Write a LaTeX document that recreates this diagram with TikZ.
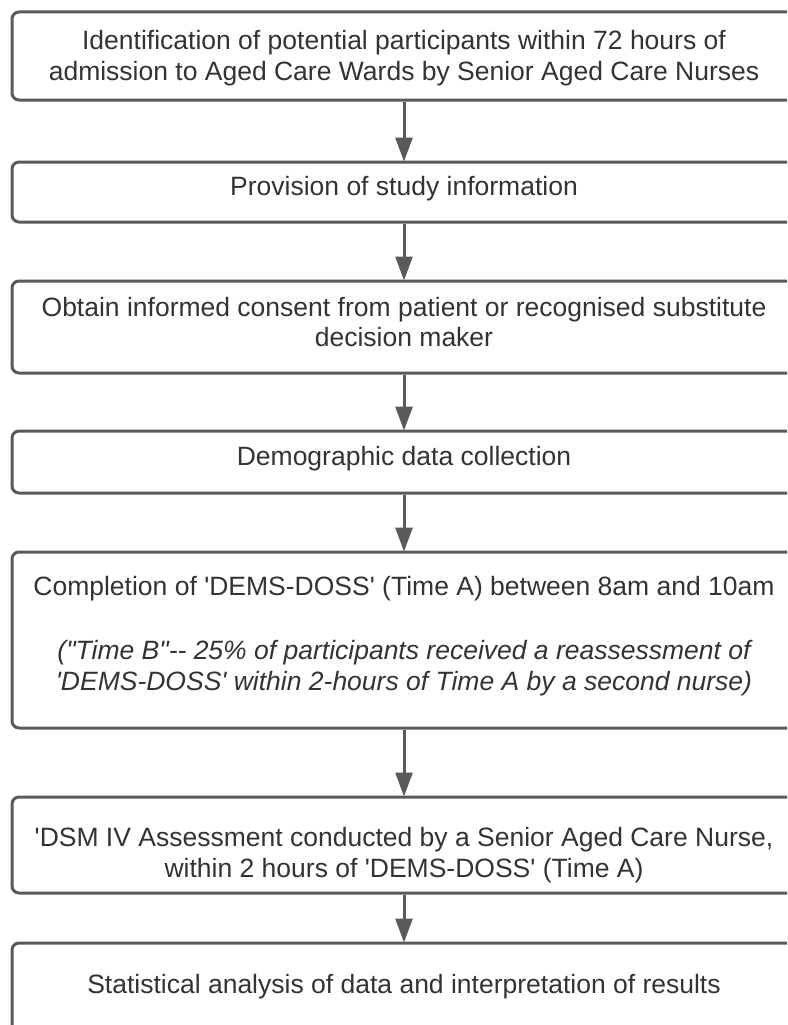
\documentclass[tikz,border=0pt]{standalone}
\usepackage{fontspec}
\setmainfont{Liberation Sans}[Ligatures=TeXOff]
\usetikzlibrary{arrows.meta}
\definecolor{bordercol}{HTML}{5A5A5A}
\definecolor{textcol}{HTML}{333333}
\newcommand{\fs}{\fontsize{26.5pt}{30.5pt}\selectfont}
\newcommand{\sq}{\textquotesingle}
\tikzset{
  box/.style={draw=bordercol, line width=3pt, rounded corners=7pt, minimum width=784pt, inner sep=0pt, fill=white},
  txt/.style={align=center, text=textcol, inner sep=0pt, font=\fs},
  flow/.style={draw=bordercol, line width=3pt, -{Triangle[length=24pt,width=17pt]}, shorten >=-1pt}
}
\begin{document}
\begin{tikzpicture}[x=1pt,y=-1pt]
\useasboundingbox (0,0) rectangle (787,1025);
\clip (0,0) rectangle (787,1025);
\fill[white] (0,0) rectangle (787,1025);
% boxes
\node[box, minimum height=88pt] (b1) at (404,56) {};
\node[box, minimum height=60pt] (b2) at (404,192) {};
\node[box, minimum height=92pt] (b3) at (404,327) {};
\node[box, minimum height=62pt] (b4) at (404,462) {};
\node[box, minimum height=176pt] (b5) at (404,640) {};
\node[box, minimum height=96pt] (b6) at (404,845) {};
\node[box, minimum height=88pt] (b7) at (404,987) {};
% texts
\node[txt] (t1) at (404,58) {Identification of potential participants within 72 hours of\\admission to Aged Care Wards by Senior Aged Care Nurses};
\node[txt] (t2) at (404,189) {Provision of study information};
\node[txt] (t3) at (404,322) {Obtain informed consent from patient or recognised substitute\\decision maker};
\node[txt] (t4) at (404,459) {Demographic data collection};
\node[txt] (t5a) at (404,589) {Completion of \sq DEMS-DOSS\sq{} (Time A) between 8am and 10am};
\node[txt, font=\fs\itshape] (t5b) at (404,668) {("Time B"-- 25\% of participants received a reassessment of\\\sq DEMS-DOSS\sq{} within 2-hours of Time A by a second nurse)};
\node[txt] (t6) at (404,855) {\sq DSM IV Assessment conducted by a Senior Aged Care Nurse,\\within 2 hours of \sq DEMS-DOSS\sq{} (Time A)};
\node[txt] (t7) at (404,987) {Statistical analysis of data and interpretation of results};
% connectors
\draw[flow] (b1) -- (b2);
\draw[flow] (b2) -- (b3);
\draw[flow] (b3) -- (b4);
\draw[flow] (b4) -- (b5);
\draw[flow] (b5) -- (b6);
\draw[flow] (b6) -- (b7);
\end{tikzpicture}
\end{document}
